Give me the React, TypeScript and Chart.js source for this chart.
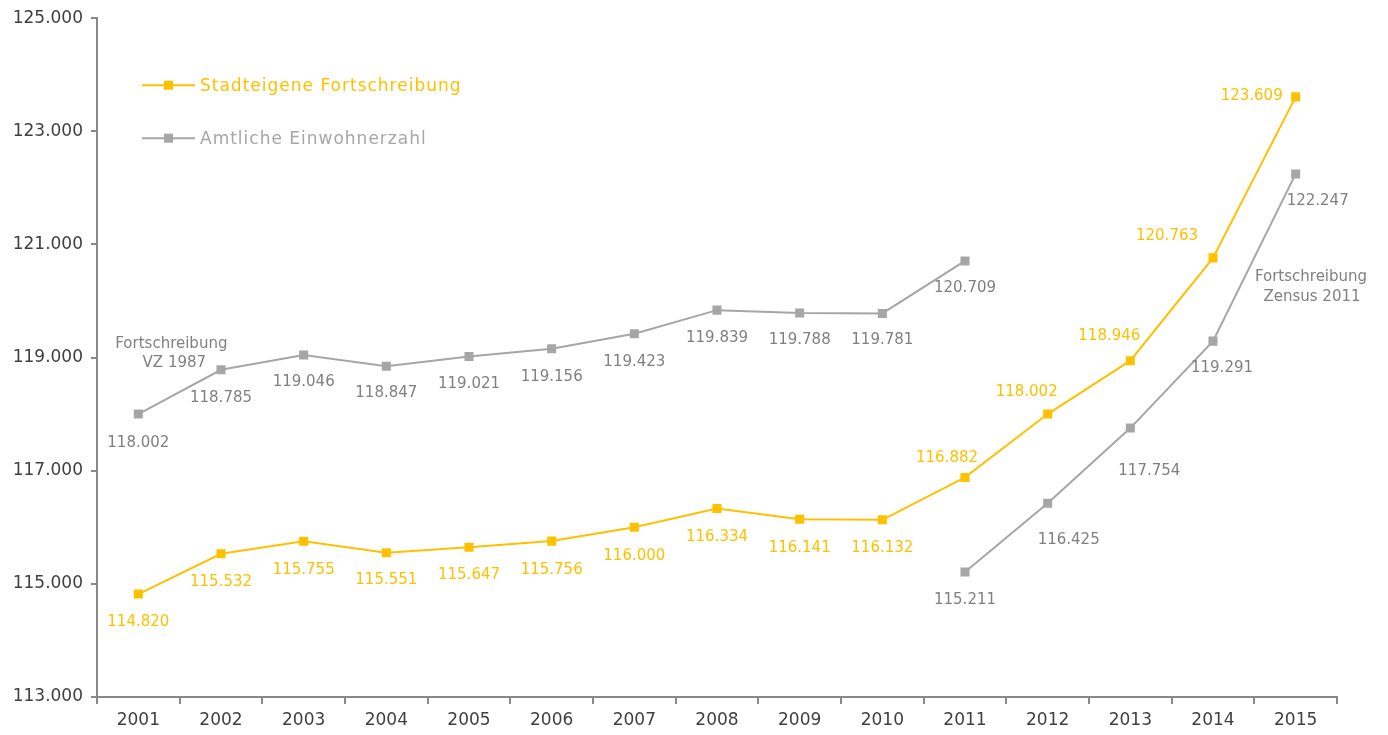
import React, { useEffect, useRef } from "react";
import { Chart, registerables } from "chart.js";

Chart.register(...registerables);

const years = ["2001","2002","2003","2004","2005","2006","2007","2008","2009","2010","2011","2012","2013","2014","2015"];
const stadteigene = [114820,115532,115755,115551,115647,115756,116000,116334,116141,116132,116882,118002,118946,120763,123609];
const amtlichVZ1987 = [118002,118785,119046,118847,119021,119156,119423,119839,119788,119781,120709,null,null,null,null];
const amtlichZensus = [null,null,null,null,null,null,null,null,null,null,115211,116425,117754,119291,122247];
const yTicks = [113000,115000,117000,119000,121000,123000,125000];

const YELLOW = "#FFC000";
const GRAY = "#A6A6A6";
const GRAY_TEXT = "#808080";
const AXIS = "#898989";
const TICK_TEXT = "#3F3F3F";
const FONT = "'DejaVu Sans', sans-serif";

// label offsets (pixels) per point, style only
const offYellow: [number, number][] = [
  [0,28],[0,28],[0,29],[0,27],[0,28],[0,29],[0,29],[0,29],[0,29],[0,28],
  [-18,-19],[-21,-22],[-21,-25],[-46,-22],[-44,-1],
];
const offGrayA: [number, number][] = [
  [0,29],[0,28],[0,27],[0,27],[0,28],[0,28],[0,28],[0,28],[0,27],[0,27],[0,27],
  [0,0],[0,0],[0,0],[0,0],
];
const offGrayB: [number, number][] = [
  [0,0],[0,0],[0,0],[0,0],[0,0],[0,0],[0,0],[0,0],[0,0],[0,0],
  [0,28],[21,37],[19,43],[9,27],[22,27],
];

const fmt = (v: number) => String(Math.round(v)).replace(/\B(?=(\d{3})+(?!\d))/g, ".");

const labelsPlugin = {
  id: "pointLabels",
  afterDatasetsDraw(chart: any) {
    const ctx = chart.ctx;
    const offsets = [offYellow, offGrayA, offGrayB];
    const colors = [YELLOW, GRAY_TEXT, GRAY_TEXT];
    ctx.save();
    ctx.font = `15px ${FONT}`;
    ctx.textAlign = "center";
    ctx.textBaseline = "middle";
    chart.data.datasets.forEach((ds: any, di: number) => {
      const meta = chart.getDatasetMeta(di);
      meta.data.forEach((pt: any, i: number) => {
        const v = ds.data[i];
        if (v == null) return;
        const [dx, dy] = offsets[di][i];
        ctx.fillStyle = colors[di];
        ctx.fillText(fmt(v), pt.x + dx, pt.y + dy);
      });
    });
    // annotations
    ctx.fillStyle = GRAY_TEXT;
    const pA = chart.getDatasetMeta(1).data[0];
    ctx.fillText("Fortschreibung", pA.x + 33, pA.y - 70);
    ctx.fillText("VZ 1987", pA.x + 36, pA.y - 51);
    const pB = chart.getDatasetMeta(2).data[13];
    ctx.fillText("Fortschreibung", pB.x + 98, pB.y - 64);
    ctx.fillText("Zensus 2011", pB.x + 99, pB.y - 44);

    // legend
    const ca = chart.chartArea;
    const items = [
      { text: chart.data.datasets[0].label, color: YELLOW, textColor: YELLOW, y: ca.top + 67 },
      { text: chart.data.datasets[1].label, color: GRAY, textColor: GRAY, y: ca.top + 120 },
    ];
    ctx.font = `17px ${FONT}`;
    ctx.textAlign = "left";
    items.forEach((it) => {
      const x0 = ca.left + 45;
      const x1 = ca.left + 98;
      ctx.strokeStyle = it.color;
      ctx.lineWidth = 2;
      ctx.beginPath();
      ctx.moveTo(x0, it.y);
      ctx.lineTo(x1, it.y);
      ctx.stroke();
      ctx.fillStyle = it.color;
      ctx.fillRect((x0 + x1) / 2 - 4.5, it.y - 4.5, 9, 9);
      ctx.fillStyle = it.textColor;
      try { (ctx as any).letterSpacing = "1px"; } catch (e) {}
      ctx.fillText(it.text, ca.left + 103, it.y + 1);
      try { (ctx as any).letterSpacing = "0px"; } catch (e) {}
    });
    ctx.restore();
  },
};

export default function App() {
  const ref = useRef<HTMLCanvasElement | null>(null);
  useEffect(() => {
    if (!ref.current) return;
    const common = {
      borderWidth: 2,
      pointStyle: "rect",
      pointRadius: 6.4,
      pointBorderWidth: 0,
      pointHoverRadius: 6.4,
      tension: 0,
      spanGaps: false,
    };
    const chart = new Chart(ref.current, {
      type: "line",
      data: {
        labels: years,
        datasets: [
          { ...common, label: "Stadteigene Fortschreibung", data: stadteigene, borderColor: YELLOW, backgroundColor: YELLOW, pointBackgroundColor: YELLOW },
          { ...common, label: "Amtliche Einwohnerzahl", data: amtlichVZ1987, borderColor: GRAY, backgroundColor: GRAY, pointBackgroundColor: GRAY },
          { ...common, label: "Amtliche Einwohnerzahl (Zensus 2011)", data: amtlichZensus, borderColor: GRAY, backgroundColor: GRAY, pointBackgroundColor: GRAY },
        ],
      } as any,
      options: {
        responsive: false,
        animation: false,
        layout: { padding: { top: 18, right: 51, left: 0, bottom: 0 } },
        plugins: { legend: { display: false }, tooltip: { enabled: false } },
        scales: {
          x: {
            type: "category",
            offset: true,
            grid: { offset: true, drawOnChartArea: false, drawTicks: true, tickLength: 7, color: AXIS, lineWidth: 2 },
            border: { display: true, color: AXIS, width: 2 },
            ticks: { color: TICK_TEXT, font: { family: FONT, size: 17 }, padding: 6, maxRotation: 0, autoSkip: false },
            afterFit: (s: any) => { s.height = 38; },
          },
          y: {
            min: 113000,
            max: 125000,
            afterBuildTicks: (s: any) => { s.ticks = yTicks.map((v) => ({ value: v })); },
            grid: { drawOnChartArea: false, drawTicks: true, tickLength: 6, color: AXIS, lineWidth: 2 },
            border: { display: true, color: AXIS, width: 2 },
            ticks: { color: TICK_TEXT, font: { family: FONT, size: 17 }, padding: 8, callback: (v: any) => fmt(Number(v)) },
            afterFit: (s: any) => { s.width = 97; },
          },
        },
      } as any,
      plugins: [labelsPlugin],
    });
    return () => chart.destroy();
  }, []);
  return (
    <div style={{ position: "fixed", left: 0, top: 0, width: 1388, height: 735, background: "#fff" }}>
      <canvas ref={ref} width={1388} height={735} style={{ width: 1388, height: 735 }} />
    </div>
  );
}
